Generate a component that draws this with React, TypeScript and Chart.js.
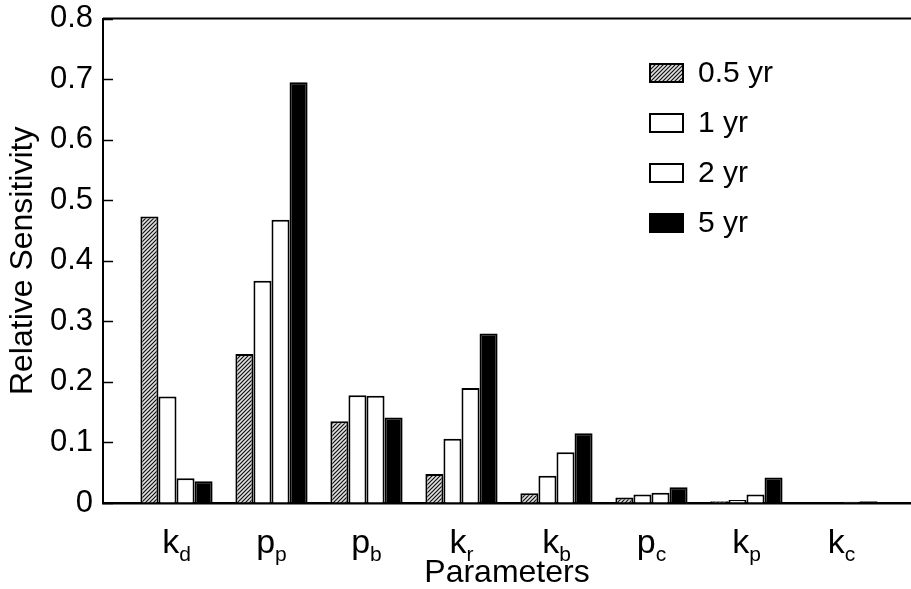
import React, { useEffect, useRef } from 'react';
import { Chart, registerables } from 'chart.js';

Chart.register(...registerables);

// ---- data ----
const paramMain = ['k', 'p', 'p', 'k', 'k', 'p', 'k', 'k'];
const paramSub = ['d', 'p', 'b', 'r', 'b', 'c', 'p', 'c'];
const seriesLabels = ['0.5 yr', '1 yr', '2 yr', '5 yr'];
const halfYear = [0.473, 0.246, 0.135, 0.048, 0.016, 0.009, 0.003, 0.001];
const oneYear = [0.176, 0.367, 0.178, 0.106, 0.045, 0.014, 0.005, 0.001];
const twoYear = [0.041, 0.468, 0.177, 0.19, 0.084, 0.017, 0.014, 0.002];
const fiveYear = [0.036, 0.695, 0.141, 0.28, 0.115, 0.026, 0.042, 0.003];
const yMin = 0;
const yMax = 0.8;
const yStep = 0.1;

const FONT = '"Liberation Sans", Arial, Helvetica, sans-serif';

function makeHatch(): CanvasPattern | string {
  const c = document.createElement('canvas');
  c.width = 4;
  c.height = 4;
  const g = c.getContext('2d');
  if (!g) return '#888';
  g.fillStyle = '#e0e0e0';
  g.fillRect(0, 0, 4, 4);
  g.strokeStyle = '#111';
  g.lineWidth = 1.2;
  g.beginPath();
  g.moveTo(-1, 5);
  g.lineTo(5, -1);
  g.moveTo(-1, 1);
  g.lineTo(1, -1);
  g.moveTo(3, 5);
  g.lineTo(5, 3);
  g.stroke();
  const p = g.createPattern(c, 'repeat');
  return p || '#888';
}

export default function App() {
  const ref = useRef<HTMLCanvasElement | null>(null);

  useEffect(() => {
    const canvas = ref.current;
    if (!canvas) return;
    const hatch = makeHatch();
    const fills = [hatch, '#ffffff', '#ffffff', '#000000'];
    const series = [halfYear, oneYear, twoYear, fiveYear];

    const decor = {
      id: 'decor',
      afterDraw(chart: any) {
        const ctx = chart.ctx as CanvasRenderingContext2D;
        const area = chart.chartArea;
        const ys = chart.scales.y;
        const xs = chart.scales.x;
        ctx.save();
        // top spine
        ctx.strokeStyle = '#000';
        ctx.lineWidth = 2;
        ctx.beginPath();
        ctx.moveTo(area.left, area.top);
        ctx.lineTo(area.right, area.top);
        ctx.stroke();
        // inward y ticks
        ctx.lineWidth = 1.5;
        ys.ticks.forEach((t: any) => {
          const y = Math.round(ys.getPixelForValue(t.value)) + 0.5;
          ctx.beginPath();
          ctx.moveTo(area.left, y);
          ctx.lineTo(area.left + 10, y);
          ctx.stroke();
        });
        // category labels with subscripts
        ctx.fillStyle = '#000';
        ctx.textBaseline = 'alphabetic';
        ctx.textAlign = 'left';
        const mainFont = `34px ${FONT}`;
        const subFont = `21px ${FONT}`;
        paramMain.forEach((m, i) => {
          const px = xs.getPixelForValue(i + 1);
          ctx.font = mainFont;
          const wm = ctx.measureText(m).width;
          ctx.font = subFont;
          const wsub = ctx.measureText(paramSub[i]).width;
          const x0 = px - (wm + wsub) / 2;
          ctx.font = mainFont;
          ctx.fillText(m, x0, 553);
          ctx.font = subFont;
          ctx.fillText(paramSub[i], x0 + wm, 561);
        });
        // legend
        const lx = 650;
        const ly0 = 73;
        const gap = 50;
        chart.data.datasets.forEach((ds: any, i: number) => {
          const cy = ly0 + i * gap;
          ctx.fillStyle = ds.backgroundColor;
          ctx.fillRect(lx, cy - 9, 33, 18);
          ctx.strokeStyle = '#000';
          ctx.lineWidth = 2;
          ctx.strokeRect(lx, cy - 9, 33, 18);
          ctx.fillStyle = '#000';
          ctx.font = `30px ${FONT}`;
          ctx.textBaseline = 'middle';
          ctx.fillText(ds.label, lx + 48, cy + 1);
        });
        ctx.restore();
      },
    };

    const chart = new Chart(canvas, {
      type: 'bar',
      data: {
        datasets: series.map((vals, si) => ({
          label: seriesLabels[si],
          data: vals.map((v, i) => ({ x: i + 1, y: v })),
          backgroundColor: fills[si] as any,
          borderColor: '#000',
          borderWidth: 2,
          categoryPercentage: 0.76,
          barPercentage: 1,
        })),
      },
      options: {
        animation: false,
        responsive: false,
        devicePixelRatio: 1,
        layout: { padding: { top: 18, right: 0, left: 0, bottom: 0 } },
        plugins: {
          legend: { display: false },
          tooltip: { enabled: false },
        },
        scales: {
          x: {
            type: 'linear',
            offset: false,
            min: 0.2263,
            max: 8.732,
            ticks: { display: false },
            grid: { display: false, offset: false },
            border: { display: true, color: '#000', width: 2.5 },
            afterBuildTicks: (s: any) => {
              s.ticks = paramMain.map((_, i) => ({ value: i + 1 }));
            },
            title: {
              display: true,
              text: 'Parameters',
              color: '#000',
              font: { family: FONT, size: 32, lineHeight: 1 },
              padding: { top: 0, bottom: 0 },
            },
            afterFit: (s: any) => {
              s.height = 86;
            },
          },
          y: {
            min: yMin,
            max: yMax,
            ticks: {
              stepSize: yStep,
              color: '#000',
              padding: 0,
              font: { family: FONT, size: 31 },
              callback: (v: any) => (Number(v) === 0 ? '0' : Number(v).toFixed(1)),
            },
            grid: {
              display: true,
              drawOnChartArea: false,
              drawTicks: true,
              tickLength: 10,
              tickColor: 'rgba(0,0,0,0)',
            },
            border: { display: true, color: '#000', width: 2 },
            title: {
              display: true,
              text: 'Relative Sensitivity',
              color: '#000',
              font: { family: FONT, size: 32, lineHeight: 1.2 },
              padding: { top: 4, bottom: 0 },
            },
            afterFit: (s: any) => {
              s.width = 103;
            },
          },
        },
      },
      plugins: [decor],
    } as any);

    return () => chart.destroy();
  }, []);

  return (
    <div style={{ position: 'fixed', left: 0, top: 0, width: 911, height: 589, background: '#fff' }}>
      <canvas ref={ref} width={911} height={589} style={{ width: 911, height: 589, display: 'block' }} />
    </div>
  );
}
